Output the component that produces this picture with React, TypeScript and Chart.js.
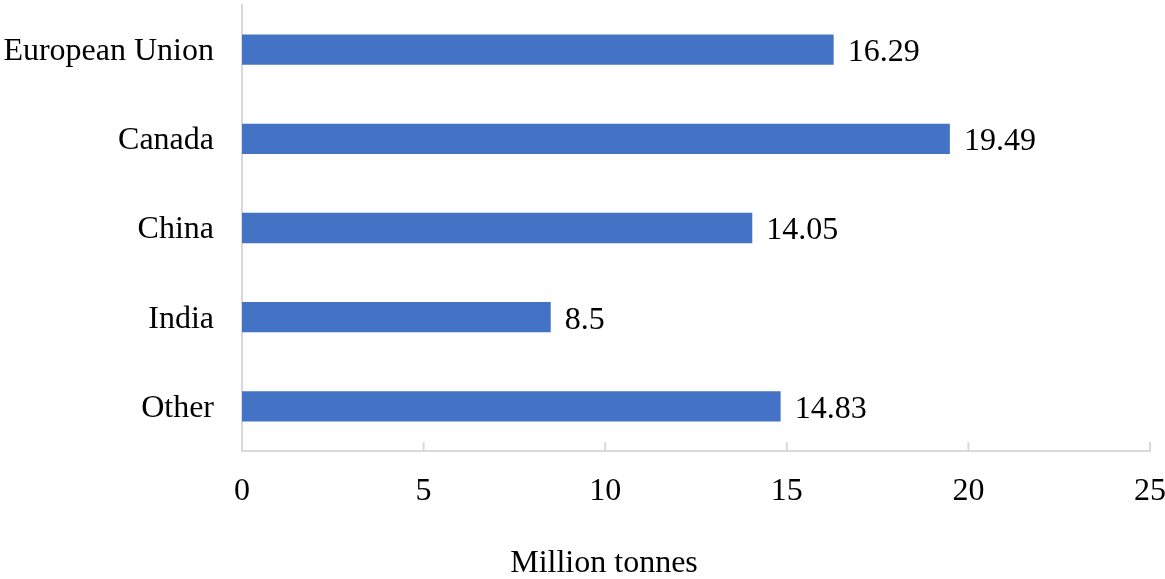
import React, { useEffect, useRef } from "react";
import { Chart, registerables } from "chart.js";

Chart.register(...registerables);

const categories = ["European Union", "Canada", "China", "India", "Other"];
const values = [16.29, 19.49, 14.05, 8.5, 14.83];
const valueLabels = ["16.29", "19.49", "14.05", "8.5", "14.83"];
const xTicks = [0, 5, 10, 15, 20, 25];
const xTitle = "Million tonnes";

const FONT = "'Liberation Serif', 'Times New Roman', serif";
const AXIS_COLOR = "#d9d9d9";

const innerTicks = {
  id: "innerTicks",
  afterDraw(chart: any) {
    const x = chart.scales.x;
    const ctx = chart.ctx;
    const bottom = chart.chartArea.bottom;
    ctx.save();
    ctx.strokeStyle = AXIS_COLOR;
    ctx.lineWidth = 2;
    xTicks.forEach((v) => {
      const px = x.getPixelForValue(v);
      ctx.beginPath();
      ctx.moveTo(px, bottom);
      ctx.lineTo(px, bottom - 9);
      ctx.stroke();
    });
    ctx.restore();
  },
};

const valueLabelPlugin = {
  id: "valueLabels",
  afterDatasetsDraw(chart: any) {
    const meta = chart.getDatasetMeta(0);
    const ctx = chart.ctx;
    ctx.save();
    ctx.font = `32px ${FONT}`;
    ctx.fillStyle = "#000";
    ctx.textAlign = "left";
    ctx.textBaseline = "middle";
    meta.data.forEach((bar: any, i: number) => {
      ctx.fillText(valueLabels[i], bar.x + 14, bar.y + 3);
    });
    ctx.restore();
  },
};

const titlePlugin = {
  id: "xTitle",
  afterDraw(chart: any) {
    const ctx = chart.ctx;
    ctx.save();
    ctx.font = `32px ${FONT}`;
    ctx.fillStyle = "#000";
    ctx.textAlign = "center";
    ctx.textBaseline = "middle";
    ctx.fillText(xTitle, 604, 564);
    ctx.restore();
  },
};

const noPad = (s: any) => {
  s.paddingTop = 0;
  s.paddingBottom = 0;
  s.paddingLeft = 0;
  s.paddingRight = 0;
};

export default function App() {
  const ref = useRef<HTMLCanvasElement>(null);
  useEffect(() => {
    if (!ref.current) return;
    const chart = new Chart(ref.current, {
      type: "bar",
      data: {
        labels: categories,
        datasets: [
          {
            data: values,
            backgroundColor: "#4472C4",
            categoryPercentage: 1,
            barPercentage: 0.34,
          },
        ],
      },
      options: {
        indexAxis: "y",
        responsive: false,
        animation: false,
        devicePixelRatio: 1,
        layout: { padding: { top: 5, right: 15, left: 0, bottom: 0 } },
        plugins: { legend: { display: false }, tooltip: { enabled: false } },
        scales: {
          x: {
            min: 0,
            max: 25,
            afterBuildTicks: (s: any) => {
              s.ticks = xTicks.map((v) => ({ value: v }));
            },
            afterFit: (s: any) => {
              s.height = 128;
              noPad(s);
            },
            grid: { display: false, drawTicks: false },
            border: { display: true, color: AXIS_COLOR, width: 2 },
            ticks: {
              padding: 21,
              color: "#000",
              font: { family: FONT, size: 32 },
              maxRotation: 0,
            },
          },
          y: {
            afterFit: (s: any) => {
              s.width = 242;
              noPad(s);
            },
            grid: { display: false, drawTicks: false },
            border: { display: true, color: AXIS_COLOR, width: 2 },
            ticks: {
              padding: 28,
              labelOffset: 2,
              color: "#000",
              font: { family: FONT, size: 32 },
            },
          },
        },
      },
      plugins: [innerTicks, valueLabelPlugin, titlePlugin],
    });
    return () => chart.destroy();
  }, []);
  return (
    <div style={{ position: "fixed", left: 0, top: 0, width: 1165, height: 579, background: "#fff" }}>
      <canvas ref={ref} width={1165} height={579} />
    </div>
  );
}
